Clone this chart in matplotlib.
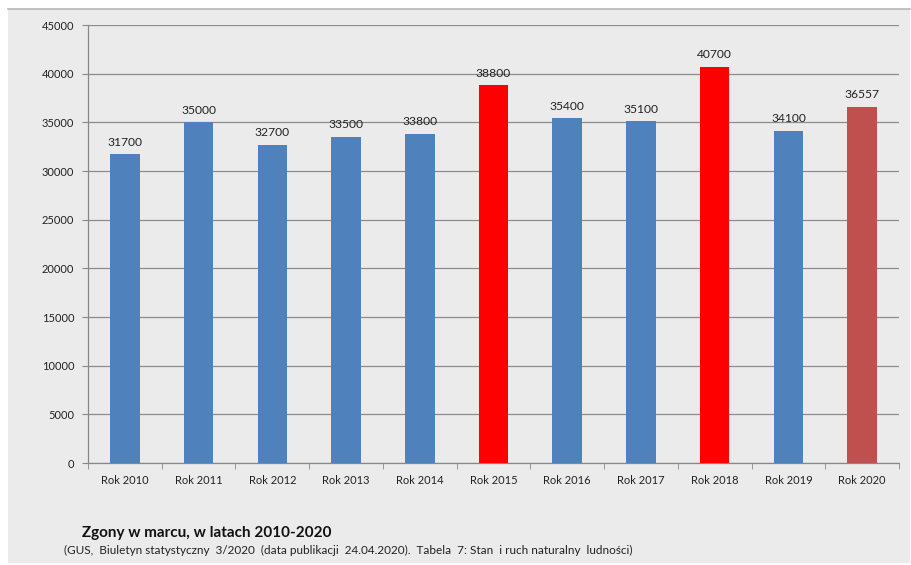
import matplotlib.pyplot as plt
from matplotlib.patches import Rectangle
from matplotlib.lines import Line2D
import numpy as np

plt.rcParams['font.family'] = ['Lato', 'DejaVu Sans']

# Dane: zgony w marcu (GUS)
lata = ['Rok 2010', 'Rok 2011', 'Rok 2012', 'Rok 2013', 'Rok 2014', 'Rok 2015',
        'Rok 2016', 'Rok 2017', 'Rok 2018', 'Rok 2019', 'Rok 2020']
zgony = [31700, 35000, 32700, 33500, 33800, 38800, 35400, 35100, 40700, 34100, 36557]
kolory = ['#4f81bd', '#4f81bd', '#4f81bd', '#4f81bd', '#4f81bd', '#ff0000',
          '#4f81bd', '#4f81bd', '#ff0000', '#4f81bd', '#c0504d']

tlo = '#ebebeb'

fig = plt.figure(figsize=(9.12, 5.65), dpi=100)
fig.patch.set_facecolor('white')
# szare tło wykresu z cienką linią u góry
fig.patches.append(Rectangle((8 / 912, 2 / 565), 902 / 912, 554 / 565,
                             transform=fig.transFigure, facecolor=tlo,
                             edgecolor='none', zorder=-10))
fig.lines.append(Line2D([8 / 912, 910 / 912], [556 / 565, 556 / 565],
                        transform=fig.transFigure, color='#b8b8b8', lw=1.2))

ax = fig.add_axes([88 / 912, 102 / 565, 811 / 912, 438 / 565])
ax.set_facecolor(tlo)

x = np.arange(len(lata))
ax.bar(x, zgony, width=0.4, color=kolory, zorder=3)
for xi, v in zip(x, zgony):
    ax.text(xi, v + 700, f'{v}', ha='center', va='bottom', fontsize=8.7,
            color='#222222', zorder=4)

ax.set_xlim(-0.5, len(lata) - 0.5)
ax.set_ylim(0, 45000)
ax.set_yticks(np.arange(0, 45001, 5000))
ax.set_xticks(x)
ax.set_xticklabels(lata)
ax.set_xticks(np.arange(-0.5, len(lata), 1), minor=True)
ax.tick_params(axis='x', which='major', length=0, labelsize=8, pad=9,
               labelcolor='#222222')
ax.tick_params(axis='x', which='minor', length=4, color='#888888')
ax.tick_params(axis='y', length=4, color='#888888', labelsize=8,
               labelcolor='#222222', pad=6)

ax.grid(axis='y', color='#8c8c8c', lw=0.9, zorder=0)
for s in ['top', 'right']:
    ax.spines[s].set_visible(False)
for s in ['left', 'bottom']:
    ax.spines[s].set_color('#888888')
    ax.spines[s].set_linewidth(0.9)

fig.text(82 / 912, 1 - 533 / 565, 'Zgony w marcu, w latach 2010-2020',
         fontsize=11, fontweight='bold', color='#111111', va='center')
fig.text(64 / 912, 1 - 550 / 565,
         '(GUS,  Biuletyn statystyczny  3/2020  (data publikacji  24.04.2020).  '
         'Tabela  7: Stan  i ruch naturalny  ludności)',
         fontsize=8.5, color='#222222', va='center')

fig.savefig('out.png', dpi=100, facecolor=fig.get_facecolor())
